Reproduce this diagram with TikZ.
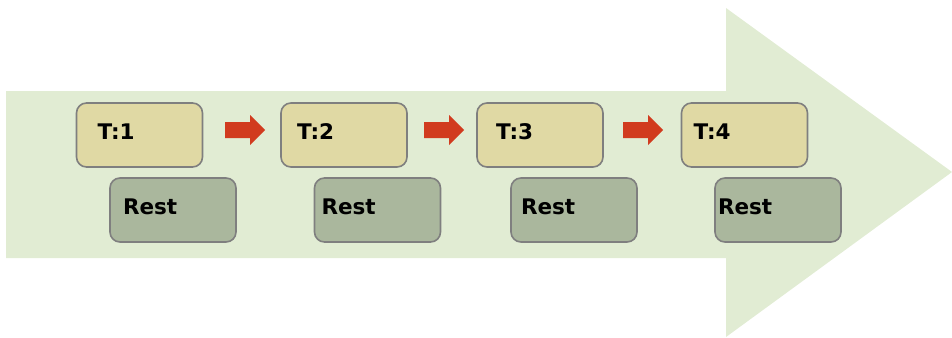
\documentclass[tikz,border=0pt]{standalone}
\usepackage{fontspec}
\setmainfont{DejaVu Sans}
\usetikzlibrary{positioning}
\definecolor{bgarrow}{HTML}{E1ECD3}
\definecolor{tfill}{HTML}{E0D9A4}
\definecolor{rfill}{HTML}{AAB79D}
\definecolor{bordergray}{HTML}{7F7F7F}
\definecolor{redarrow}{HTML}{D13B1E}
\begin{document}
\begin{tikzpicture}[x=1pt,y=-1pt,
  box/.style={draw=bordergray, line width=1.6pt, rounded corners=10pt,
    minimum width=126pt, minimum height=64pt, inner ysep=0pt,
    font=\fontsize{21.5}{23}\selectfont\bfseries, align=left,
    text height=16pt, text depth=7pt},
  tbox/.style={box, fill=tfill},
  rbox/.style={box, fill=rfill},
  redblk/.style={fill=redarrow, draw=none}]
\useasboundingbox (0,0) rectangle (952,337);
% big background arrow
\fill[bgarrow] (6,91) -- (726,91) -- (726,8) -- (952,172) -- (726,337) -- (726,258) -- (6,258) -- cycle;
% T boxes
\node[tbox, inner xsep=21pt, text width=84pt] (t1) at (139.5,135) {T:1};
\node[tbox, inner xsep=16pt, text width=94pt] (t2) at (344,135) {T:2};
\node[tbox, inner xsep=19pt, text width=88pt] (t3) at (540,135) {T:3};
\node[tbox, inner xsep=12pt, text width=102pt] (t4) at (744.5,135) {T:4};
% Rest boxes
\node[rbox, inner xsep=13pt, text width=100pt] (r1) at (173,210) {Rest};
\node[rbox, inner xsep=7pt, text width=112pt] (r2) at (377.5,210) {Rest};
\node[rbox, inner xsep=10pt, text width=106pt] (r3) at (574,210) {Rest};
\node[rbox, inner xsep=3pt, text width=120pt] (r4) at (778,210) {Rest};
% small red block arrows
\foreach \x in {225,424,623}{
  \fill[redblk] (\x,122) -- (\x+25,122) -- (\x+25,115) -- (\x+40,130) -- (\x+25,145) -- (\x+25,138) -- (\x,138) -- cycle;
}
\end{tikzpicture}
\end{document}
